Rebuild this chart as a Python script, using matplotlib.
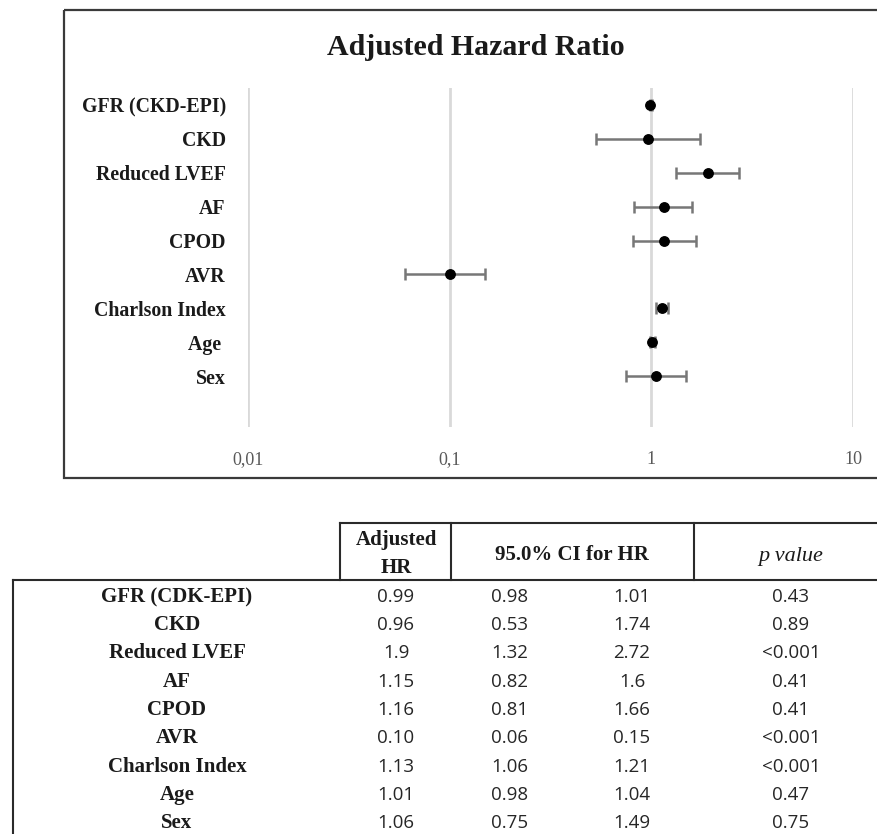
import matplotlib
matplotlib.use("Agg")
import matplotlib.pyplot as plt
from matplotlib.patches import Rectangle
from matplotlib.ticker import NullLocator
import numpy as np

# ---------------- data ----------------
plot_labels = ["GFR (CKD-EPI)", "CKD", "Reduced LVEF", "AF", "CPOD", "AVR",
               "Charlson Index", "Age ", "Sex"]
table_labels = ["GFR (CDK-EPI)", "CKD", "Reduced LVEF", "AF", "CPOD", "AVR",
                "Charlson Index", "Age", "Sex"]
hr = [0.99, 0.96, 1.9, 1.15, 1.16, 0.10, 1.13, 1.01, 1.06]
ci_low = [0.98, 0.53, 1.32, 0.82, 0.81, 0.06, 1.06, 0.98, 0.75]
ci_high = [1.01, 1.74, 2.72, 1.6, 1.66, 0.15, 1.21, 1.04, 1.49]
hr_text = ["0.99", "0.96", "1.9", "1.15", "1.16", "0.10", "1.13", "1.01", "1.06"]
low_text = ["0.98", "0.53", "1.32", "0.82", "0.81", "0.06", "1.06", "0.98", "0.75"]
high_text = ["1.01", "1.74", "2.72", "1.6", "1.66", "0.15", "1.21", "1.04", "1.49"]
p_text = ["0.43", "0.89", "<0.001", "0.41", "0.41", "<0.001", "<0.001", "0.47", "0.75"]
x_ticks = [0.01, 0.1, 1, 10]
x_tick_labels = ["0,01", "0,1", "1", "10"]
title = "Adjusted Hazard Ratio"

W, H = 878, 834
fig = plt.figure(figsize=(W / 100, H / 100), dpi=100)
fig.patch.set_facecolor("white")

SERIF = "Liberation Serif"
SANS = "Open Sans"

# overlay axes in pixel coordinates for frame + table
ov = fig.add_axes([0, 0, 1, 1], zorder=0)
ov.set_xlim(0, W)
ov.set_ylim(H, 0)
ov.axis("off")

# chart frame
ov.add_patch(Rectangle((64, 10), 830, 468, fill=False, edgecolor="#3a3a3a", lw=1.6))
ov.text(476, 47, title, ha="center", va="center", fontsize=21.5,
        fontweight="bold", family=SERIF, color="#1a1a1a")

# ---------------- forest plot ----------------
ax = fig.add_axes([248 / W, 1 - 427 / H, (853 - 248) / W, (427 - 88) / H], zorder=1)
ax.set_facecolor("none")
n = len(hr)
ypos = np.arange(n) + 0.5
hr_a = np.array(hr)
xerr = [hr_a - np.array(ci_low), np.array(ci_high) - hr_a]
ax.errorbar(hr_a, ypos, xerr=xerr, fmt="o", color="black", markersize=6.8,
            ecolor="#777777", elinewidth=1.8, capsize=4, capthick=1.8, zorder=3)
ax.set_xscale("log")
ax.set_xlim(0.01, 10)
ax.set_ylim(n + 1, 0)
ax.xaxis.set_minor_locator(NullLocator())
ax.set_xticks(x_ticks)
ax.set_xticklabels(x_tick_labels, family=SERIF, fontsize=13, color="#595959")
ax.set_yticks(ypos)
ax.set_yticklabels(plot_labels, family=SERIF, fontsize=14.3, fontweight="bold", color="#1a1a1a")
ax.tick_params(axis="x", length=0, pad=17)
ax.tick_params(axis="y", length=0, pad=16)
for s in ax.spines.values():
    s.set_visible(False)
for xv in x_ticks:
    ax.axvline(xv, color="#d9d9d9", lw=2, zorder=1)

# ---------------- table ----------------
lc = "#2a2a2a"
lw = 1.5
ov.plot([340, 880], [523, 523], color=lc, lw=lw)
ov.plot([13, 880], [580, 580], color=lc, lw=lw)
ov.plot([340, 340], [523, 580], color=lc, lw=lw)
ov.plot([451, 451], [523, 580], color=lc, lw=lw)
ov.plot([694, 694], [523, 580], color=lc, lw=lw)
ov.plot([13, 13], [580, 840], color=lc, lw=lw)

hdr = dict(ha="center", va="center", fontsize=15, family=SERIF, color="#1a1a1a")
ov.text(396, 540, "Adjusted", fontweight="bold", **hdr)
ov.text(396, 568, "HR", fontweight="bold", **hdr)
ov.text(572, 555, "95.0% CI for HR", fontweight="bold", **hdr)
ov.text(791, 556, "p value", fontstyle="italic", **dict(hdr, fontsize=16))

row0, dy = 597, 28.25
num = dict(ha="center", va="center", fontsize=13.5, family=SANS, color="#262626")
for i in range(n):
    yy = row0 + i * dy
    ov.text(177, yy, table_labels[i], ha="center", va="center", fontsize=15,
            fontweight="bold", family=SERIF, color="#1a1a1a")
    ov.text(396, yy, hr_text[i], **num)
    ov.text(510, yy, low_text[i], **num)
    ov.text(632, yy, high_text[i], **num)
    ov.text(791, yy, p_text[i], **num)

fig.savefig("out.png", dpi=100, facecolor="white")
